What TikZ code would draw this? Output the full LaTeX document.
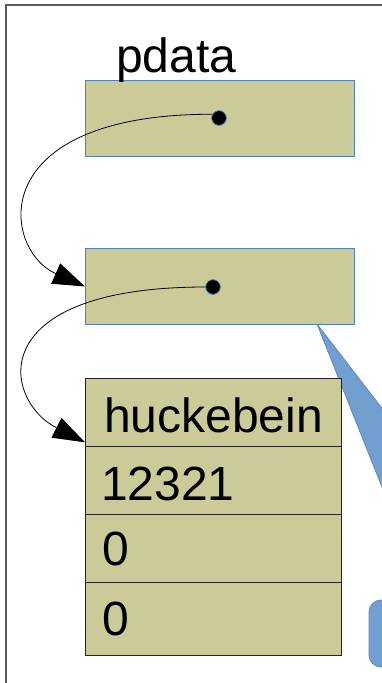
\documentclass[tikz,border=0pt]{standalone}
\usepackage{fontspec}
\setmainfont{Liberation Sans}
\usetikzlibrary{arrows.meta,calc}
\definecolor{cellfill}{HTML}{CBCB99}
\definecolor{cellblue}{HTML}{4F7FBD}
\definecolor{calloutfill}{HTML}{729FCF}
\definecolor{calloutedge}{HTML}{5E8BC0}
\definecolor{framegray}{HTML}{5A5A5A}

\begin{document}
\begin{tikzpicture}[x=1pt,y=-1pt,
  ptrbox/.style={draw=cellblue, line width=0.9pt, fill=cellfill,
    minimum width=269pt, minimum height=76pt, inner sep=0pt, anchor=north west},
  cell/.style={draw=black!85, line width=1.3pt, fill=cellfill,
    minimum width=256pt, inner sep=0pt, anchor=north west},
  celltext/.style={anchor=base west, inner sep=0pt, font=\fontsize{48}{52}\selectfont},
  ptrdot/.style={circle, fill=black, draw=cellblue, line width=0.6pt,
    minimum size=14.5pt, inner sep=0pt},
  ptrline/.style={draw=black, line width=0.8pt,
    -{Triangle[length=32pt,width=22pt]}}]

\useasboundingbox (0,0) rectangle (382,683);
\clip (0,0) rectangle (382,683);

% outer frame
\draw[framegray, line width=1.2pt] (6,5) rectangle (430,730);

% callout shape
\coordinate (ctip) at (317,324);
\filldraw[fill=calloutfill, draw=calloutedge, line width=0.8pt]
  (ctip) -- (427,600) -- (530,600) -- cycle;
\filldraw[fill=calloutfill, draw=calloutedge, line width=0.8pt, rounded corners=12pt]
  (369,600) rectangle (480,667);

% pointer boxes
\node[ptrbox] (b1) at (85,80) {};
\node[ptrbox] (b2) at (85,248) {};
\node[celltext] (lbl) at (116,72) {pdata};

% record cells
\node[cell, minimum height=68pt] (r1) at (85,378) {};
\node[cell, minimum height=68pt] (r2) at (85,446) {};
\node[cell, minimum height=68pt] (r3) at (85,514) {};
\node[cell, minimum height=73pt] (r4) at (85,582) {};
\node[celltext] (t1) at (104,432) {huckebein};
\node[celltext] (t2) at (101,500) {12321};
\node[celltext] (t3) at (102,565) {0};
\node[celltext] (t4) at (102,635) {0};

% pointer dots
\node[ptrdot] (d1) at (219,118) {};
\node[ptrdot] (d2) at (213,287) {};

% pointer arrows
\draw[ptrline] (d1.150) .. controls (-18,114) and (2,250) .. (b2.west);
\draw[ptrline] (d2.west) .. controls (-18,287) and (2,400) .. ($(r1.south west)+(0,-5)$);

% dots on top of the lines
\node[ptrdot] at (d1) {};
\node[ptrdot] at (d2) {};
\end{tikzpicture}
\end{document}
